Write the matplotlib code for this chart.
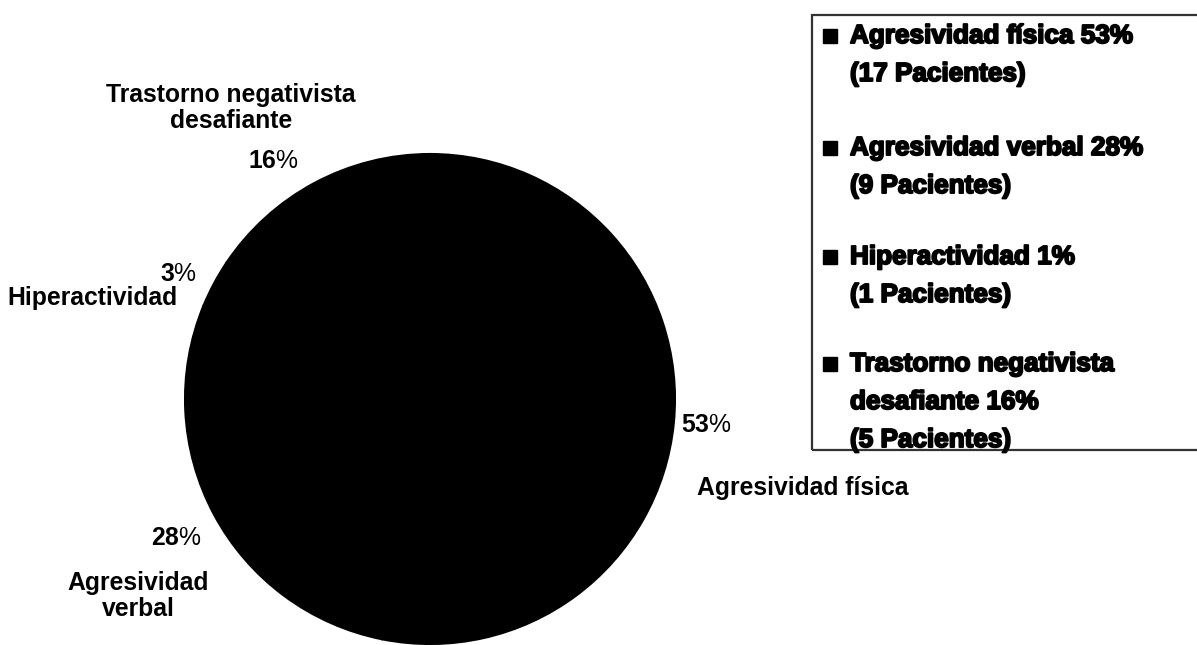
import matplotlib.pyplot as plt
import matplotlib.patheffects as pe
from matplotlib.patches import Rectangle

# datos del grafico
categorias = ["Agresividad física", "Agresividad verbal", "Hiperactividad",
              "Trastorno negativista desafiante"]
pacientes = [17, 9, 1, 5]
porcentaje = [53, 28, 3, 16]
porcentaje_leyenda = [53, 28, 1, 16]

etiquetas = ["Agresividad física", "Agresividad\nverbal", "Hiperactividad",
             "Trastorno negativista\ndesafiante"]
nombres_leyenda = ["Agresividad física", "Agresividad verbal", "Hiperactividad",
                   "Trastorno negativista\ndesafiante"]

plt.rcParams['font.family'] = 'Liberation Sans'
plt.rcParams['mathtext.fontset'] = 'custom'
plt.rcParams['mathtext.rm'] = 'Liberation Sans'
plt.rcParams['mathtext.bf'] = 'Liberation Sans:bold'

W, H = 1197, 645
fig = plt.figure(figsize=(W / 100, H / 100), dpi=100)
ax = fig.add_axes([0, 0, 1, 1])

ax.pie(pacientes, colors=['black'] * len(pacientes), startangle=90, counterclock=False,
       center=(430, H - 399), radius=245,
       wedgeprops=dict(linewidth=1.5, edgecolor='black'))
ax.set_xlim(0, W)
ax.set_ylim(0, H)
ax.set_aspect('equal')
ax.axis('off')

# etiquetas alrededor del pastel (posiciones en pixeles desde arriba)
pos_nombre = [(803, 488), (138, 596), (92, 298), (231, 108)]
pos_pct = [(706, 425), (176, 538), (178, 274), (273, 161)]
for i in range(len(categorias)):
    x, y = pos_nombre[i]
    ax.text(x, H - y, etiquetas[i], ha='center', va='center', fontsize=17.8,
            fontweight='bold', linespacing=1.1)
    x, y = pos_pct[i]
    ax.text(x, H - y, r"$\mathbf{%d}$%%" % porcentaje[i], ha='center', va='center',
            fontsize=17.8)

# leyenda
ax.add_patch(Rectangle((812, H - 450), 500, 435, fill=False, lw=1.6,
                       edgecolor='#333333', clip_on=False))
grueso = [pe.withStroke(linewidth=1.4, foreground='black')]
inicio = [36, 148, 257, 364]
salto = 38
for i in range(len(categorias)):
    lineas = f"{nombres_leyenda[i]} {porcentaje_leyenda[i]}%".split("\n")
    lineas.append(f"({pacientes[i]} Pacientes)")
    y0 = inicio[i]
    ax.plot([830], [H - y0], marker='s', ms=10, color='black')
    for j, linea in enumerate(lineas):
        ax.text(850, H - (y0 + j * salto), linea, ha='left', va='center',
                fontsize=18.8, fontweight='bold', path_effects=grueso)

fig.savefig('out.png', dpi=100)
